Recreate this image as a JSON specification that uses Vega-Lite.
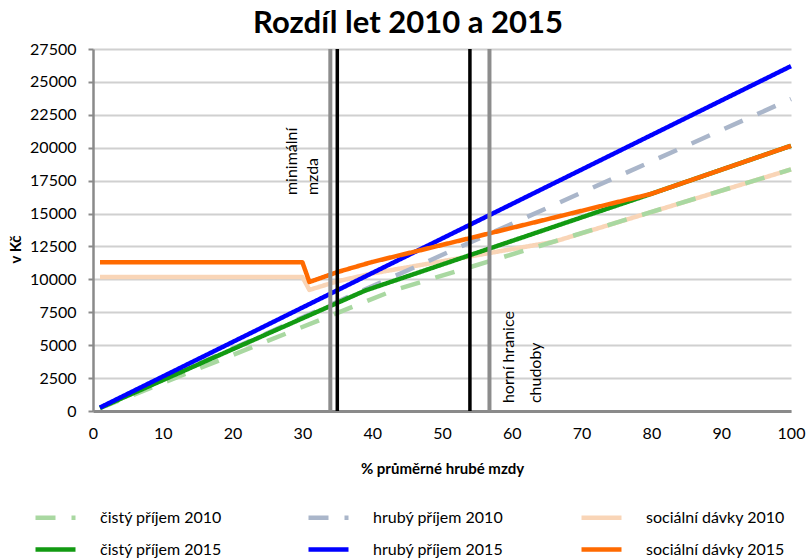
{
  "$schema": "https://vega.github.io/schema/vega-lite/v6.json",
  "width": 698,
  "height": 362,
  "autosize": {"type": "none"},
  "padding": {"left": 93, "top": 49, "right": 15, "bottom": 148},
  "background": "white",
  "title": {"text": "Rozdíl let 2010 a 2015", "font": "Lato", "fontSize": 31, "fontWeight": "bold", "color": "black", "anchor": "middle", "dx": -34, "offset": 1},
  "config": {
    "font": "Lato",
    "view": {"stroke": null},
    "axis": {"labelFont": "Lato", "titleFont": "Lato", "labelColor": "black", "titleColor": "black", "labelFlush": false, "labelOverlap": false},
    "legend": {"orient": "none", "legendX": -60, "legendY": 446, "columns": 3, "direction": "horizontal", "gridAlign": "all", "symbolType": "stroke", "symbolSize": 1600, "labelFont": "Lato", "labelFontSize": 16, "labelColor": "black", "labelOffset": 22, "columnPadding": 60, "rowPadding": -9, "title": null}
  },
  "datasets": {
    "series": [
      {"s": "sociální dávky 2010", "x": 1, "v": 10180},
      {"s": "sociální dávky 2010", "x": 30, "v": 10180},
      {"s": "sociální dávky 2010", "x": 31, "v": 9200},
      {"s": "sociální dávky 2010", "x": 35, "v": 9850},
      {"s": "sociální dávky 2010", "x": 40, "v": 10450},
      {"s": "sociální dávky 2010", "x": 66, "v": 12850},
      {"s": "sociální dávky 2010", "x": 100, "v": 18350},
      {"s": "hrubý příjem 2010", "x": 1, "v": 237},
      {"s": "hrubý příjem 2010", "x": 100, "v": 23700},
      {"s": "čistý příjem 2010", "x": 1, "v": 211},
      {"s": "čistý příjem 2010", "x": 43, "v": 9150},
      {"s": "čistý příjem 2010", "x": 100, "v": 18350},
      {"s": "čistý příjem 2015", "x": 1, "v": 233},
      {"s": "čistý příjem 2015", "x": 39, "v": 9150},
      {"s": "čistý příjem 2015", "x": 80, "v": 16500},
      {"s": "čistý příjem 2015", "x": 100, "v": 20150},
      {"s": "hrubý příjem 2015", "x": 1, "v": 262},
      {"s": "hrubý příjem 2015", "x": 100, "v": 26200},
      {"s": "sociální dávky 2015", "x": 1, "v": 11300},
      {"s": "sociální dávky 2015", "x": 30, "v": 11300},
      {"s": "sociální dávky 2015", "x": 31, "v": 9800},
      {"s": "sociální dávky 2015", "x": 35, "v": 10550},
      {"s": "sociální dávky 2015", "x": 40, "v": 11320},
      {"s": "sociální dávky 2015", "x": 80, "v": 16500},
      {"s": "sociální dávky 2015", "x": 100, "v": 20150}
    ],
    "vgrey": [{"x": 34}, {"x": 56.8}],
    "vblack": [{"x": 35}, {"x": 54}],
    "labels": [
      {"x": 28.5, "v": 16400, "t": "minimální"},
      {"x": 31.5, "v": 16400, "t": "mzda"},
      {"x": 59.6, "v": 600, "t": "horní hranice"},
      {"x": 63.5, "v": 600, "t": "chudoby"}
    ]
  },
  "layer": [
    {
      "data": {"name": "series"},
      "mark": {"type": "line", "strokeCap": "butt", "strokeJoin": "round"},
      "encoding": {
        "x": {"field": "x", "type": "quantitative", "scale": {"domain": [0, 100], "nice": false},
          "axis": {"values": [0, 10, 20, 30, 40, 50, 60, 70, 80, 90, 100], "tickCount": 11, "grid": false, "ticks": false, "domainColor": "#8a8a8a", "domainWidth": 3, "labelFontSize": 16, "labelPadding": 14, "title": "% průměrné hrubé mzdy", "titleFontSize": 15, "titleFontWeight": "bold", "titlePadding": 20}},
        "y": {"field": "v", "type": "quantitative", "scale": {"domain": [0, 27500], "nice": false},
          "axis": {"values": [0, 2500, 5000, 7500, 10000, 12500, 15000, 17500, 20000, 22500, 25000, 27500], "tickCount": 12, "format": "d", "grid": true, "gridColor": "#d0d0d0", "gridWidth": 2, "domainColor": "#8a8a8a", "domainWidth": 2.5, "tickColor": "#8a8a8a", "tickSize": 5, "tickWidth": 2, "labelFontSize": 16, "labelPadding": 12, "title": "v Kč", "titleFontSize": 15, "titleFontWeight": "bold", "titleAngle": 270, "titleX": -78, "titleY": 200, "titleBaseline": "middle", "titleAlign": "center"}},
        "color": {"field": "s", "type": "nominal", "title": null,
          "scale": {"domain": ["čistý příjem 2010", "hrubý příjem 2010", "sociální dávky 2010", "čistý příjem 2015", "hrubý příjem 2015", "sociální dávky 2015"],
            "range": ["#a9d8a1", "#aab6ca", "#f9d5b7", "#129a12", "#0000ff", "#ff6a00"]}},
        "strokeDash": {"field": "s", "type": "nominal", "title": null,
          "scale": {"domain": ["čistý příjem 2010", "hrubý příjem 2010", "sociální dávky 2010", "čistý příjem 2015", "hrubý příjem 2015", "sociální dávky 2015"],
            "range": [[20, 16], [20, 16], [1, 0], [1, 0], [1, 0], [1, 0]]}},
        "strokeWidth": {"field": "s", "type": "nominal", "title": null,
          "scale": {"domain": ["čistý příjem 2010", "hrubý příjem 2010", "sociální dávky 2010", "čistý příjem 2015", "hrubý příjem 2015", "sociální dávky 2015"],
            "range": [4.5, 4.5, 7, 5, 5, 5]}}
      }
    },
    {
      "data": {"name": "vgrey"},
      "mark": {"type": "rule", "color": "#8c8c8c", "strokeWidth": 4},
      "encoding": {"x": {"field": "x", "type": "quantitative", "scale": {"domain": [0, 100], "nice": false}}}
    },
    {
      "data": {"name": "vblack"},
      "mark": {"type": "rule", "color": "#000000", "strokeWidth": 3.5},
      "encoding": {"x": {"field": "x", "type": "quantitative", "scale": {"domain": [0, 100], "nice": false}}}
    },
    {
      "data": {"name": "labels"},
      "mark": {"type": "text", "angle": 270, "align": "left", "baseline": "middle", "font": "Lato", "fontSize": 16, "color": "black"},
      "encoding": {
        "x": {"field": "x", "type": "quantitative", "scale": {"domain": [0, 100], "nice": false}},
        "y": {"field": "v", "type": "quantitative", "scale": {"domain": [0, 27500], "nice": false}},
        "text": {"field": "t", "type": "nominal"}
      }
    }
  ]
}
